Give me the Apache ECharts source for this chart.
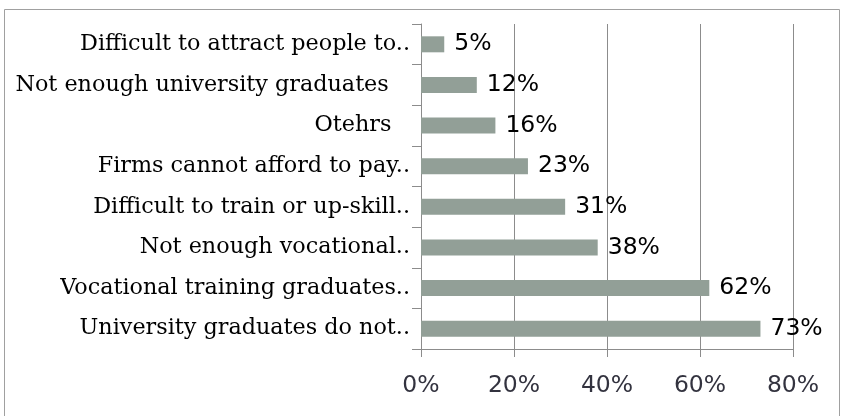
<!DOCTYPE html>
<html><head><meta charset="utf-8">
<script src="https://cdn.jsdelivr.net/npm/echarts@6/dist/echarts.min.js"></script>
<style>html,body{margin:0;padding:0;background:#fff}#c{width:843px;height:416px}</style>
</head><body><div id="c"></div>
<script>
const categories = [
  'Difficult to attract people to..',
  'Not enough university graduates   ',
  'Otehrs  \u2009',
  'Firms cannot afford to pay..',
  'Difficult to train or up-skill..',
  'Not enough vocational..',
  'Vocational training graduates..',
  'University graduates do not..'
];
const values = [5, 12, 16, 23, 31, 38, 62, 73];
const xTicks = [0, 20, 40, 60, 80];

const chart = echarts.init(document.getElementById('c'));
chart.setOption({
  animation: false,
  graphic: [{
    type: 'rect', left: 2, top: 7, silent: true,
    shape: { x: 0.5, y: 0.5, width: 835, height: 412 },
    style: { fill: 'none', stroke: '#a0a0a0', lineWidth: 1 }
  }],
  grid: { left: 421, right: 50, top: 24, bottom: 67, containLabel: false },
  xAxis: {
    type: 'value', min: xTicks[0], max: xTicks[xTicks.length - 1], interval: 20,
    axisLine: { show: true, lineStyle: { color: '#8c8c8c', width: 1 } },
    axisTick: { show: true, length: 8, lineStyle: { color: '#8c8c8c' } },
    splitLine: { show: true, lineStyle: { color: '#8c8c8c', width: 1 } },
    axisLabel: {
      margin: 25, color: '#33333f', fontFamily: 'DejaVu Sans', fontSize: 23.5,
      formatter: v => v + '%'
    }
  },
  yAxis: {
    type: 'category', data: categories, inverse: true,
    axisLine: { show: true, lineStyle: { color: '#8c8c8c', width: 1 } },
    axisTick: { show: true, length: 9, lineStyle: { color: '#8c8c8c' } },
    axisLabel: { margin: 11, color: '#000', fontFamily: 'DejaVu Serif', fontSize: 22.3 }
  },
  series: [{
    type: 'bar', data: values, barWidth: 16,
    itemStyle: { color: '#929f97' },
    label: {
      show: true, position: 'right', distance: 10,
      color: '#000', fontFamily: 'DejaVu Sans', fontSize: 23.5,
      formatter: p => p.value + '%'
    }
  }]
});
</script></body></html>
